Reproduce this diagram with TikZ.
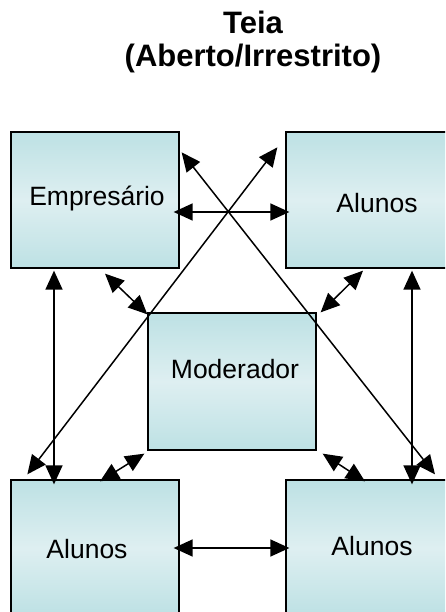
\documentclass[tikz,border=0pt]{standalone}
\usepackage{fontspec}
\setmainfont{Liberation Sans}
\usepackage{tikz}
\usetikzlibrary{arrows.meta}
\usetikzlibrary{calc}

\definecolor{boxedge}{RGB}{189,225,228}
\definecolor{boxmid}{RGB}{222,239,241}

\begin{document}
\begin{tikzpicture}[x=1pt, y=-1pt,
    box/.style={draw, line width=1.3pt, inner sep=0pt,
      minimum width=168pt, minimum height=136pt,
      top color=boxedge, bottom color=boxedge, middle color=boxmid},
    lbl/.style={anchor=base, inner sep=0pt, font=\fontsize{26.5}{30}\selectfont},
    link/.style={<->, line width=1.5pt},
    >={Triangle[length=19pt, width=17pt]}]
    \useasboundingbox (0, 0) rectangle (445, 612);
    \clip (0, 0) rectangle (445, 612);

    \node [anchor=north, inner sep=0pt, align=center,
      font=\bfseries\fontsize{31}{33}\selectfont]
      (titulo) at (253, 11) {Teia\\(Aberto/Irrestrito)};

    \node [box] (empresario) at (95, 200) {};
    \node [box] (alunosA) at (370, 200) {};
    \node [box, minimum height=137pt] (moderador) at (232, 381.5) {};
    \node [box] (alunosB) at (95, 548) {};
    \node [box] (alunosC) at (370, 548) {};

    \node [lbl] (txtEmpresario) at (97, 205) {Empresário};
    \node [lbl] (txtAlunosA) at (377, 212) {Alunos};
    \node [lbl] (txtModerador) at (235, 378) {Moderador};
    \node [lbl] (txtAlunosB) at (87, 558) {Alunos};
    \node [lbl] (txtAlunosC) at (372, 555) {Alunos};

    \draw [link] ([shift={(-6, 12)}]empresario.east)
      -- ([shift={(4, 12)}]alunosA.west);
    \draw [link] ([shift={(2, 21)}]empresario.north east)
      -- ([shift={(65, -5)}]alunosC.north);
    \draw [link] ([shift={(-8, 16)}]alunosA.north west)
      -- ([shift={(17, -5)}]alunosB.north west);
    \draw [link] ([shift={(-41, 2)}]empresario.south)
      -- ([shift={(-41, 5)}]alunosB.north);
    \draw [link] ([shift={(42, 2)}]alunosA.south)
      -- ([shift={(42, 5)}]alunosC.north);
    \draw [link] ([shift={(10, 5)}]empresario.south)
      -- ([shift={(0, 2)}]moderador.north west);
    \draw [link] ([shift={(-7, 2)}]alunosA.south)
      -- ([shift={(4, 0)}]moderador.north east);
    \draw [link] ([shift={(-3, 3)}]moderador.south west)
      -- ([shift={(5, 2)}]alunosB.north);
    \draw [link] ([shift={(6, 3)}]moderador.south east)
      -- ([shift={(-5, 2)}]alunosC.north);
    \draw [link] ([shift={(-6, 0)}]alunosB.east)
      -- ([shift={(4, 0)}]alunosC.west);

  \end{tikzpicture}
\end{document}
